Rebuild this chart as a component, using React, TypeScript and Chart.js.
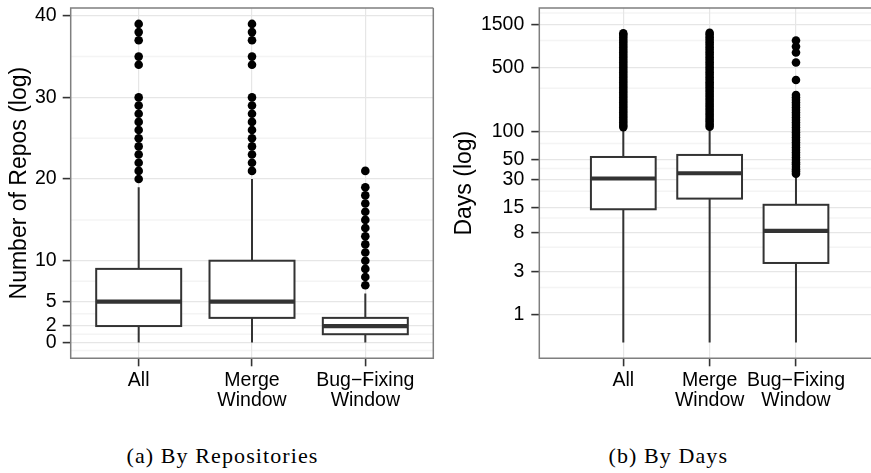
import React, { useEffect, useRef } from 'react';
import { Chart, registerables } from 'chart.js';

Chart.register(...registerables);

// ---------- shared ----------
const categoryLines = [['All'], ['Merge', 'Window'], ['Bug\u2212Fixing', 'Window']];

// ---------- panel (a) By Repositories ----------
const repoTicks = [0, 2, 5, 10, 20, 30, 40];
const repoLower = [0, 0, 0];
const repoQ1 = [2, 3, 1];
const repoMedian = [5, 5, 2];
const repoQ3 = [9, 10, 3];
const repoUpper = [19, 20, 6];
const repoOutliersAll = [20, 21, 22, 23, 24, 25, 26, 27, 28, 29, 30, 34, 35, 37, 38, 39];
const repoOutliersMerge = [21, 22, 23, 24, 25, 26, 27, 28, 29, 30, 34, 35, 37, 38, 39];
const repoOutliersBug = [7, 8, 9, 10, 11, 12, 13, 14, 15, 16, 17, 18, 19, 21];

// ---------- panel (b) By Days ----------
const dayTicks = [1, 3, 8, 15, 30, 50, 100, 500, 1500];
const dayLower = [0.5, 0.5, 0.5];
const dayQ1 = [14.3, 18.7, 3.7];
const dayMedian = [31, 35.4, 8.3];
const dayQ3 = [53.3, 56.1, 16];
const dayUpper = [111, 112, 34.5];
const dayOutliersAll = [
  113, 119, 127, 135, 144, 153, 163, 174, 185, 197, 210, 224, 238, 254, 270, 288, 306,
  326, 347, 370, 394, 420, 447, 476, 507, 540, 575, 612, 652, 694, 739, 787, 838, 893,
  951, 1013, 1078, 1148, 1195,
];
const dayOutliersMerge = [
  114, 121, 129, 137, 146, 155, 165, 176, 187, 199, 212, 226, 241, 256, 273, 290, 309,
  329, 350, 373, 397, 423, 450, 479, 510, 543, 578, 615, 655, 697, 742, 790, 841, 896,
  954, 1016, 1082, 1152, 1215,
];
const dayOutliersBug = [
  35, 37, 39, 41.5, 44, 46.5, 49.5, 52.5, 56, 59.5, 63.5, 67.5, 72, 76.5, 81.5, 87, 92.5,
  98.5, 105, 112, 119, 127, 135, 144, 153, 163, 174, 185, 197, 210, 224, 238, 254, 370,
  575, 740, 860, 1000,
];

const SANS = "'Liberation Sans', Arial, Helvetica, sans-serif";
const SERIF = "'Liberation Serif', 'Times New Roman', serif";

type Stats = { lower: number[]; q1: number[]; median: number[]; q3: number[]; upper: number[] };

function minorBreaks(ticks: number[]): number[] {
  const out: number[] = [];
  out.push(ticks[0] - (ticks[1] - ticks[0]) / 2);
  for (let i = 0; i < ticks.length - 1; i++) out.push((ticks[i] + ticks[i + 1]) / 2);
  const n = ticks.length;
  out.push(ticks[n - 1] + (ticks[n - 1] - ticks[n - 2]) / 2);
  return out;
}

function boxPlugin(stats: Stats, minors: number[], drawRight: boolean) {
  return {
    id: 'boxplotDraw',
    beforeDraw(chart: any) {
      const { ctx, chartArea: a, scales } = chart;
      const y = scales.y;
      ctx.save();
      ctx.strokeStyle = '#f4f4f4';
      ctx.lineWidth = 1.5;
      minors.forEach((v) => {
        if (y.type === 'logarithmic' && v <= 0) return;
        const p = y.getPixelForValue(v);
        if (p < a.top || p > a.bottom) return;
        ctx.beginPath();
        ctx.moveTo(a.left, p);
        ctx.lineTo(a.right, p);
        ctx.stroke();
      });
      ctx.restore();
    },
    beforeDatasetsDraw(chart: any) {
      const { ctx, scales } = chart;
      const x = scales.x;
      const y = scales.y;
      const unit = x.getPixelForValue(1) - x.getPixelForValue(0);
      const half = (unit * 0.75) / 2;
      ctx.save();
      ctx.strokeStyle = '#333333';
      for (let i = 0; i < stats.q1.length; i++) {
        const cx = x.getPixelForValue(i);
        const yLo = y.getPixelForValue(stats.lower[i]);
        const yQ1 = y.getPixelForValue(stats.q1[i]);
        const yMed = y.getPixelForValue(stats.median[i]);
        const yQ3 = y.getPixelForValue(stats.q3[i]);
        const yHi = y.getPixelForValue(stats.upper[i]);
        ctx.lineWidth = 2;
        ctx.beginPath();
        ctx.moveTo(cx, yLo);
        ctx.lineTo(cx, yQ1);
        ctx.moveTo(cx, yQ3);
        ctx.lineTo(cx, yHi);
        ctx.stroke();
        ctx.fillStyle = '#ffffff';
        ctx.fillRect(cx - half, yQ3, 2 * half, yQ1 - yQ3);
        ctx.strokeRect(cx - half, yQ3, 2 * half, yQ1 - yQ3);
        ctx.lineWidth = 4.2;
        ctx.beginPath();
        ctx.moveTo(cx - half, yMed);
        ctx.lineTo(cx + half, yMed);
        ctx.stroke();
      }
      ctx.restore();
    },
    afterDraw(chart: any) {
      const { ctx, chartArea: a } = chart;
      ctx.save();
      ctx.strokeStyle = '#7f7f7f';
      ctx.lineWidth = 1.5;
      ctx.beginPath();
      ctx.moveTo(a.right + (drawRight ? 0 : 10), a.top);
      ctx.lineTo(a.left, a.top);
      ctx.lineTo(a.left, a.bottom);
      ctx.lineTo(a.right + (drawRight ? 0 : 10), a.bottom);
      if (drawRight) {
        ctx.lineTo(a.right, a.top);
      }
      ctx.stroke();
      ctx.restore();
    },
  };
}

function makeDataset(values: number[], idx: number) {
  return {
    data: values.map((v) => ({ x: idx, y: v })),
    backgroundColor: '#000000',
    borderWidth: 0,
    pointRadius: 4.3,
    pointHoverRadius: 4.3,
    showLine: false,
  };
}

type PanelCfg = {
  outliers: number[][];
  stats: Stats;
  yType: 'linear' | 'logarithmic';
  yMin: number;
  yMax: number;
  yTicks: number[];
  minors: number[];
  title: string;
  titlePad: number;
  axisWidth: number;
  xMin: number;
  xMax: number;
  rightPad: number;
  tickPad: number;
  drawRight: boolean;
};

function Panel({ cfg, left, width }: { cfg: PanelCfg; left: number; width: number }) {
  const ref = useRef<HTMLCanvasElement | null>(null);
  useEffect(() => {
    if (!ref.current) return;
    const tickFont = { family: SANS, size: 19.5, lineHeight: 1.04 };
    const chart = new Chart(ref.current, {
      type: 'scatter',
      data: { datasets: cfg.outliers.map((o, i) => makeDataset(o, i)) as any },
      options: {
        animation: false,
        responsive: false,
        maintainAspectRatio: false,
        devicePixelRatio: 1,
        events: [],
        layout: { padding: { top: 8, right: cfg.rightPad, left: 0, bottom: 0 }, autoPadding: false },
        plugins: { legend: { display: false }, tooltip: { enabled: false } },
        scales: {
          x: {
            type: 'linear',
            bounds: 'data',
            min: cfg.xMin,
            max: cfg.xMax,
            afterBuildTicks: (s: any) => {
              s.ticks = [0, 1, 2].map((v) => ({ value: v }));
            },
            ticks: {
              autoSkip: false,
              maxRotation: 0,
              minRotation: 0,
              padding: 4,
              color: '#000000',
              font: tickFont,
              callback: (v: any) => categoryLines[v as number],
            },
            grid: {
              color: '#e6e6e6',
              lineWidth: 1.2,
              tickColor: '#333333',
              tickLength: 8,
              tickWidth: 1.6,
            },
            border: { display: false },
            afterFit: (s: any) => {
              s.height = 420 - 358.3;
              s.paddingLeft = 0;
              s.paddingRight = 0;
            },
          },
          y: {
            type: cfg.yType,
            bounds: 'data',
            min: cfg.yMin,
            max: cfg.yMax,
            afterBuildTicks: (s: any) => {
              s.ticks = cfg.yTicks.map((v) => ({ value: v }));
            },
            ticks: {
              autoSkip: false,
              padding: cfg.tickPad,
              color: '#000000',
              font: tickFont,
              callback: (v: any) => String(v),
            },
            grid: {
              color: '#e6e6e6',
              lineWidth: 1.2,
              tickColor: '#333333',
              tickLength: 8,
              tickWidth: 1.6,
            },
            border: { display: false },
            title: {
              display: true,
              text: cfg.title,
              color: '#000000',
              font: { family: SANS, size: 23, lineHeight: 1.2 },
              padding: { top: cfg.titlePad, bottom: 0 },
            },
            afterFit: (s: any) => {
              s.width = cfg.axisWidth;
              s.paddingTop = 0;
              s.paddingBottom = 0;
            },
          },
        } as any,
      },
      plugins: [boxPlugin(cfg.stats, cfg.minors, cfg.drawRight)],
    });
    return () => chart.destroy();
  }, []);
  return (
    <canvas
      ref={ref}
      width={width}
      height={420}
      style={{ position: 'absolute', left, top: 0, width, height: 420 }}
    />
  );
}

const repoCfg: PanelCfg = {
  outliers: [repoOutliersAll, repoOutliersMerge, repoOutliersBug],
  stats: { lower: repoLower, q1: repoQ1, median: repoMedian, q3: repoQ3, upper: repoUpper },
  yType: 'linear',
  yMin: -1.95,
  yMax: 40.95,
  yTicks: repoTicks,
  minors: minorBreaks(repoTicks),
  title: 'Number of Repos (log)',
  titlePad: 5.5,
  axisWidth: 70.7,
  xMin: -0.6,
  xMax: 2.6,
  rightPad: 440 - 433.3,
  tickPad: 6,
  drawRight: true,
};

const dayCfg: PanelCfg = {
  outliers: [dayOutliersAll, dayOutliersMerge, dayOutliersBug],
  stats: { lower: dayLower, q1: dayQ1, median: dayMedian, q3: dayQ3, upper: dayUpper },
  yType: 'logarithmic',
  yMin: 0.336,
  yMax: 2265,
  yTicks: dayTicks,
  minors: minorBreaks(dayTicks),
  title: 'Days (log)',
  titlePad: 11,
  axisWidth: 99.3,
  xMin: -0.973,
  xMax: 2.869,
  rightPad: 0,
  tickPad: 7,
  drawRight: false,
};

export default function App() {
  const capStyle: React.CSSProperties = {
    position: 'absolute',
    top: 445,
    width: 300,
    textAlign: 'center',
    fontFamily: SERIF,
    fontSize: 22,
    lineHeight: '22px',
    letterSpacing: '1.1px',
    color: '#000',
    whiteSpace: 'nowrap',
  };
  return (
    <div
      style={{
        position: 'fixed',
        left: 0,
        top: 0,
        width: 871,
        height: 473,
        background: '#ffffff',
        overflow: 'hidden',
      }}
    >
      <Panel cfg={repoCfg} left={0} width={440} />
      <Panel cfg={dayCfg} left={440} width={431} />
      <div style={{ ...capStyle, left: 222.5 - 150 }}>(a) By Repositories</div>
      <div style={{ ...capStyle, left: 668.3 - 150 }}>(b) By Days</div>
    </div>
  );
}
